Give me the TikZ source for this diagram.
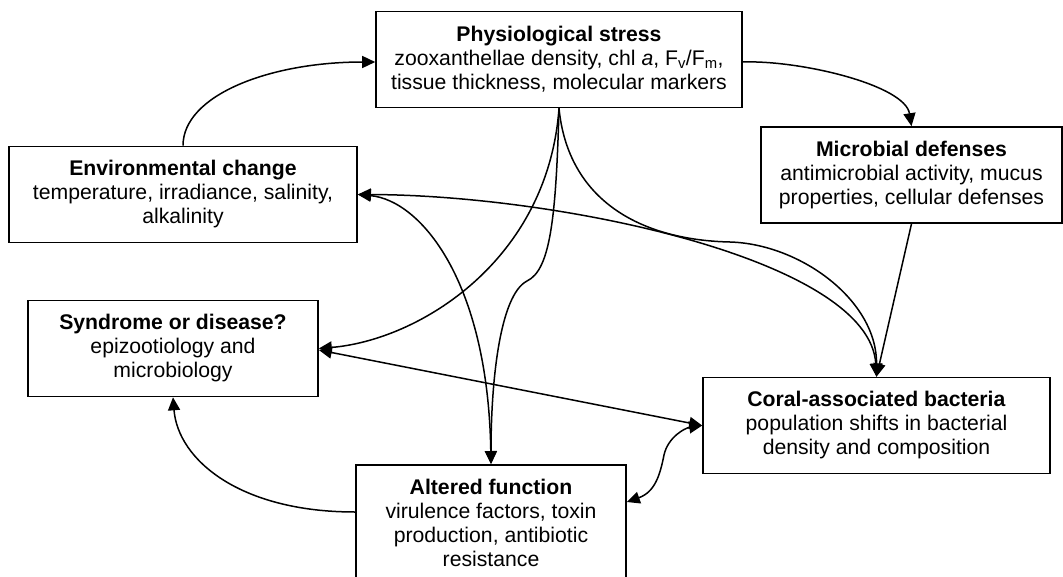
\documentclass[tikz,border=0pt]{standalone}
\usepackage{fontspec}
\setmainfont{Liberation Sans}
\usepackage{tikz}
\usetikzlibrary{positioning,calc,arrows.meta}

\tikzset{
  box/.style={draw, line width=1.6pt, align=center, inner xsep=4pt, inner ysep=14pt,
    minimum height=96pt, font={\fontsize{21.2}{24}\selectfont}},
  link/.style={line width=1.5pt, -{Triangle[length=13pt,width=12pt]}},
  twoway/.style={line width=1.5pt, {Triangle[length=13pt,width=12pt]}-{Triangle[length=13pt,width=12pt]}},
}

\begin{document}
\begin{tikzpicture}[x=1pt, y=-1pt]
  \useasboundingbox (0,0) rectangle (1063,576);

  % Boxes
  \node[box, minimum width=366pt] (stress) at (559,59.5) {\textbf{Physiological stress}\\ zooxanthellae density, chl \textit{a}, F\textsubscript{v}/F\textsubscript{m},\\ tissue thickness, molecular markers};
  \node[box, minimum width=348pt] (env) at (183,194.5) {\textbf{Environmental change}\\ temperature, irradiance, salinity,\\ alkalinity};
  \node[box, minimum width=301pt] (defense) at (911.5,175) {\textbf{Microbial defenses}\\ antimicrobial activity, mucus\\ properties, cellular defenses};
  \node[box, minimum width=290pt] (disease) at (173,348.5) {\textbf{Syndrome or disease?}\\ epizootiology and\\ microbiology};
  \node[box, minimum width=347pt] (bacteria) at (876.5,425.5) {\textbf{Coral-associated bacteria}\\ population shifts in bacterial\\ density and composition};
  \node[box, minimum width=270pt, anchor=north] (function) at (491,464) {\textbf{Altered function}\\ virulence factors, toxin\\ production, antibiotic\\ resistance};

  % Outer loop
  \draw[link] (env.north) .. controls (183,95) and (270,62) .. ([yshift=-2.5pt]stress.west);
  \draw[link] ([yshift=-2.5pt]stress.east) .. controls (800,60) and (905,85) .. (defense.north);
  \draw[link] (defense.south) -- (bacteria.north);
  \draw[link] ([yshift=-48pt]function.north west) .. controls (240,512) and (178,460) .. (disease.south);

  % From physiological stress
  \draw[link] (stress.south) .. controls (568,200) and (640,240) .. (730,242) .. controls (800,244) and (877,300) .. (bacteria.north);
  \draw[link] (stress.south) .. controls (548,260) and (420,340) .. (disease.east);
  \draw[link] (stress.south) .. controls (556,220) and (550,270) .. (527,281) .. controls (500,295) and (491,380) .. (function.north);

  % Two-way links
  \draw[twoway] (env.east) .. controls (560,195) and (870,260) .. (bacteria.north);
  \draw[twoway] (env.east) .. controls (420,200) and (488,280) .. (function.north);
  \draw[twoway] ([yshift=-1.5pt]disease.east) -- (bacteria.west);
  \draw[twoway] ([yshift=-38pt]function.north east) .. controls (655,492) and (660,475) .. (664,455) .. controls (668,437) and (685,428) .. (bacteria.west);
\end{tikzpicture}
\end{document}
